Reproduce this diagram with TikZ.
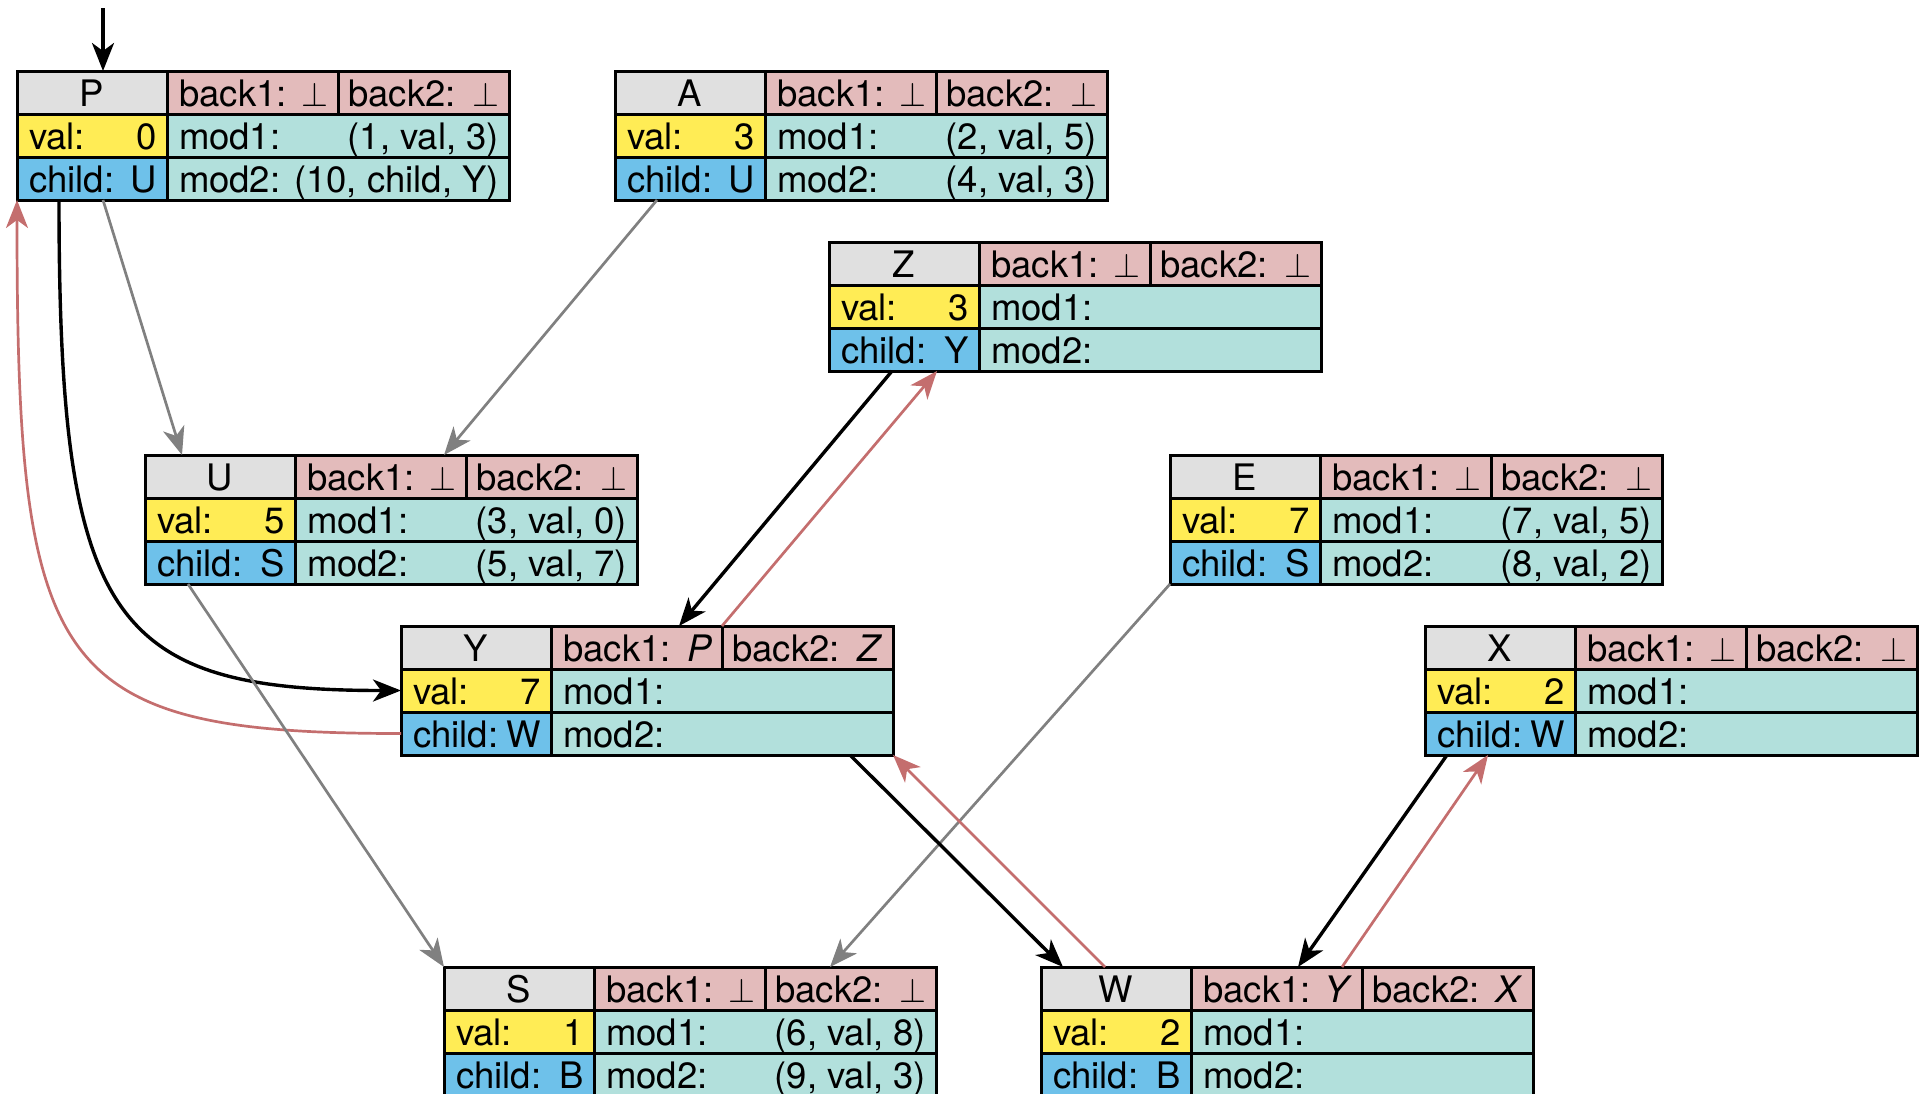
\documentclass[tikz,border=0pt]{standalone}
\usepackage{fontspec}
\setmainfont{TeX Gyre Heros}
\usetikzlibrary{calc,arrows.meta}
\definecolor{hdc}{RGB}{224,224,224}
\definecolor{bkc}{RGB}{227,187,187}
\definecolor{valc}{RGB}{255,236,85}
\definecolor{chc}{RGB}{110,193,234}
\definecolor{mdc}{RGB}{178,224,220}
\definecolor{redc}{RGB}{196,110,110}
\definecolor{grayc}{RGB}{128,128,128}
\tikzset{
  cell/.style={draw=black, line width=1.5pt, inner sep=0pt, outer sep=0pt, minimum height=21.5pt, anchor=north west},
  namec/.style={cell, minimum width=75pt},
  backc/.style={cell, minimum width=85.5pt},
  modc/.style={cell, minimum width=171pt},
  txt/.style={inner sep=0pt, outer sep=0pt, font=\fontsize{18.25}{22}\selectfont},
  lt/.style={txt, anchor=base west},
  rt/.style={txt, anchor=base east},
  ct/.style={txt, anchor=base},
  tipx/.style={-{Stealth[length=14pt,width=11pt,inset=4pt]}},
  blk/.style={tipx, line width=1.7pt, draw=black},
  redarr/.style={tipx, line width=1.35pt, draw=redc},
  grayarr/.style={tipx, line width=1.35pt, draw=grayc},
}
\newcommand\rec[9]{%
  \node[namec, fill=hdc] (#1-hd) at (#2) {};
  \node[backc, fill=bkc] (#1-b1) at (#1-hd.north east) {};
  \node[backc, fill=bkc] (#1-b2) at (#1-b1.north east) {};
  \node[namec, fill=valc] (#1-val) at (#1-hd.south west) {};
  \node[modc, fill=mdc] (#1-m1) at (#1-val.north east) {};
  \node[namec, fill=chc] (#1-child) at (#1-val.south west) {};
  \node[modc, fill=mdc] (#1-m2) at (#1-child.north east) {};
  \node[ct] (#1-hdT) at ($(#1-hd.south)+(0,-8)$) {#3};
  \node[lt] (#1-b1L) at ($(#1-b1.south west)+(12,-8)$) {back1:};
  \node[rt] (#1-b1R) at ($(#1-b1.south east)+(-10,-8)$) {#4};
  \node[lt] (#1-b2L) at ($(#1-b2.south west)+(10,-8)$) {back2:};
  \node[rt] (#1-b2R) at ($(#1-b2.south east)+(-10,-8)$) {#5};
  \node[lt] (#1-valL) at ($(#1-val.south west)+(12,-8)$) {val:};
  \node[rt] (#1-valR) at ($(#1-val.south east)+(-10,-8)$) {#6};
  \node[lt] (#1-chL) at ($(#1-child.south west)+(12,-8)$) {child:};
  \node[rt] (#1-chR) at ($(#1-child.south east)+(-10,-8)$) {#7};
  \node[lt] (#1-m1L) at ($(#1-m1.south west)+(12,-8)$) {mod1:};
  \node[rt] (#1-m1R) at ($(#1-m1.south east)+(-10,-8)$) {#8};
  \node[lt] (#1-m2L) at ($(#1-m2.south west)+(12,-8)$) {mod2:};
  \node[rt] (#1-m2R) at ($(#1-m2.south east)+(-10,-8)$) {#9};
}
\begin{document}
\begin{tikzpicture}[x=0.5pt, y=-0.5pt]
  \useasboundingbox (0,0) rectangle (1925,1093);
  \clip (0,0) rectangle (1925,1093);
  \rec{P}{17,71}{P}{$\perp$}{$\perp$}{0}{U}{(1, val, 3)}{(10, child, Y)}
  \rec{A}{615,71}{A}{$\perp$}{$\perp$}{3}{U}{(2, val, 5)}{(4, val, 3)}
  \rec{Z}{829,242}{Z}{$\perp$}{$\perp$}{3}{Y}{}{}
  \rec{U}{145,455}{U}{$\perp$}{$\perp$}{5}{S}{(3, val, 0)}{(5, val, 7)}
  \rec{E}{1170,455}{E}{$\perp$}{$\perp$}{7}{S}{(7, val, 5)}{(8, val, 2)}
  \rec{Y}{401,626}{Y}{\textit{P}}{\textit{Z}}{7}{W}{}{}
  \rec{X}{1425,626}{X}{$\perp$}{$\perp$}{2}{W}{}{}
  \rec{S}{444,967}{S}{$\perp$}{$\perp$}{1}{B}{(6, val, 8)}{(9, val, 3)}
  \rec{W}{1041,967}{W}{\textit{Y}}{\textit{X}}{2}{B}{}{}
  % entry
  \coordinate (entry) at (103,8);
  \draw[blk] (entry) -- ($(P-hd.north west)+(86,0)$);
  % curved
  \draw[blk] ($(P-child.south west)+(42,0)$) .. controls +(0,420) and +(-291,0) .. (Y-val.west);
  \draw[redarr] (Y-child.west) .. controls +(-351,0) and +(0,470) .. (P-child.south west);
  % gray
  \draw[grayarr] ($(P-child.south west)+(86,0)$) -- ($(U-hd.north west)+(37,0)$);
  \draw[grayarr] ($(A-child.south west)+(42,0)$) -- ($(U-b1.north east)+(-22,0)$);
  \draw[grayarr] ($(U-child.south west)+(43,0)$) -- (S-hd.north west);
  \draw[grayarr] (E-child.south west) -- ($(S-b2.north west)+(65,0)$);
  % Z / Y
  \draw[blk] ($(Z-child.south west)+(63,0)$) -- ($(Y-b1.north west)+(128,0)$);
  \draw[redarr] (Y-b1.north east) -- ($(Z-child.south west)+(108,0)$);
  % Y / W
  \draw[blk] ($(Y-m2.south east)+(-43,0)$) -- ($(W-hd.north west)+(22,0)$);
  \draw[redarr] ($(W-hd.north west)+(64,0)$) -- (Y-m2.south east);
  % X / W
  \draw[blk] ($(X-child.south west)+(22,0)$) -- ($(W-b1.north west)+(107,0)$);
  \draw[redarr] ($(W-b1.north east)+(-20,0)$) -- ($(X-child.south west)+(63,0)$);
\end{tikzpicture}
\end{document}
